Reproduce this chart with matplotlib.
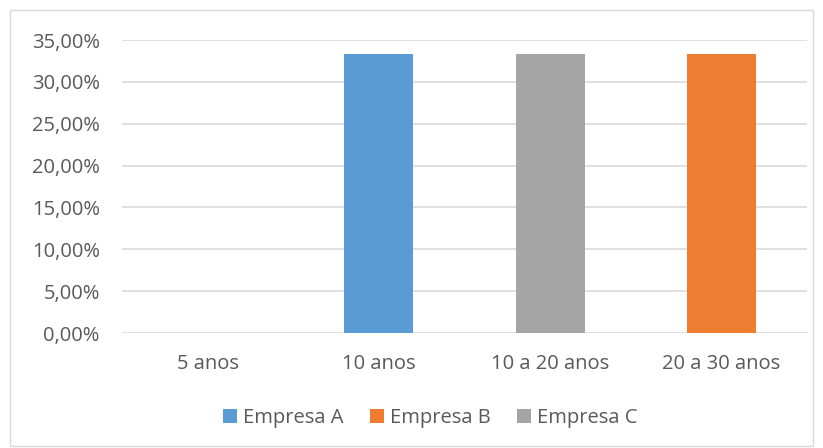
import numpy as np
import matplotlib.pyplot as plt
from matplotlib.patches import Rectangle
from matplotlib.ticker import FuncFormatter

plt.rcParams['font.family'] = ['Open Sans', 'DejaVu Sans']

# Dados
categorias = ['5 anos', '10 anos', '10 a 20 anos', '20 a 30 anos']
empresa_a = [0, 0.3333, 0, 0]
empresa_b = [0, 0, 0, 0.3333]
empresa_c = [0, 0, 0.3333, 0]
series = ['Empresa A', 'Empresa B', 'Empresa C']
cores = ['#5B9BD5', '#ED7D31', '#A5A5A5']

W, H = 823, 448
fig = plt.figure(figsize=(W / 100, H / 100), dpi=100)
ax = fig.add_axes([122 / W, 1 - 333 / H, (807 - 122) / W, (333 - 40) / H])

# borda externa do gráfico
fig.patches.append(Rectangle((10 / W, 2 / H), 803 / W, 436 / H, transform=fig.transFigure,
                             fill=False, edgecolor='#D9D9D9', linewidth=1))

x = np.arange(len(categorias))
larg = 0.404
for vals, nome, cor in zip([empresa_a, empresa_b, empresa_c], series, cores):
    ax.bar(x, vals, width=larg, color=cor, label=nome, zorder=3)

ax.set_xlim(-0.5, len(categorias) - 0.5)
ax.set_ylim(0, 0.35)
ax.set_yticks(np.arange(0, 0.351, 0.05))
ax.yaxis.set_major_formatter(FuncFormatter(lambda v, p: f'{v*100:.2f}%'.replace('.', ',')))
ax.set_xticks(x)
ax.set_xticklabels(categorias)
ax.grid(axis='y', color='#D9D9D9', linewidth=1.2, zorder=0)
for s in ax.spines.values():
    s.set_visible(False)
ax.tick_params(axis='both', length=0, labelsize=14.5, colors='#595959')
ax.tick_params(axis='y', pad=16)
ax.tick_params(axis='x', pad=15)

fig.legend(loc='center', bbox_to_anchor=(430 / W, 1 - 418 / H), ncol=3, frameon=False,
           fontsize=14.5, labelcolor='#595959', handlelength=0.7, handleheight=0.7,
           handletextpad=0.3, columnspacing=1.3)

fig.savefig('out.png', dpi=100)
